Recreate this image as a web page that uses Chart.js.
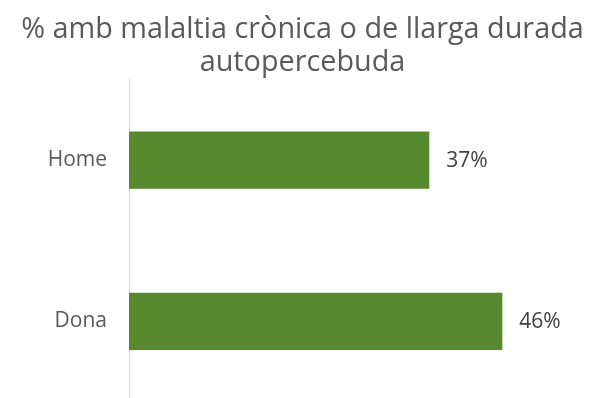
<!DOCTYPE html>
<html>
<head>
<meta charset="utf-8">
<script src="https://cdn.jsdelivr.net/npm/chart.js@4"></script>
<style>
  html, body { margin: 0; padding: 0; background: #fff; overflow: hidden; }
  canvas { display: block; }
</style>
</head>
<body>
<canvas id="chart" width="605" height="402"></canvas>
<script>
const categories = ["Home", "Dona"];
const values = [37, 46];
const titleLines = ["% amb malaltia crònica o de llarga durada", "autopercebuda"];

// writes "37%" etc. just past the end of each bar
const valueLabels = {
    id: "valueLabels",
    afterDatasetsDraw(chart) {
        const ctx = chart.ctx;
        const meta = chart.getDatasetMeta(0);
        ctx.save();
        ctx.font = "21px 'Open Sans'";
        ctx.fillStyle = "#404040";
        ctx.textAlign = "left";
        ctx.textBaseline = "middle";
        meta.data.forEach((bar, i) => {
            ctx.fillText(values[i] + "%", bar.x + 17, bar.y + 1);
        });
        ctx.restore();
    }
};

new Chart(document.getElementById("chart").getContext("2d"), {
    type: "bar",
    data: {
        labels: categories,
        datasets: [
            {
                data: values,
                backgroundColor: "#57892f",
                borderWidth: 0,
                categoryPercentage: 1,
                barPercentage: 0.354,
            },
        ],
    },
    options: {
        indexAxis: "y",
        responsive: false,
        animation: false,
        layout: {
            padding: 0,
        },
        plugins: {
            legend: { display: false },
            tooltip: { enabled: false },
            title: {
                display: true,
                text: titleLines,
                color: "#595959",
                font: { family: "'Open Sans'", size: 28.8, weight: "normal", lineHeight: 1.12 },
                padding: { top: 14, bottom: 1 },
            },
        },
        scales: {
            x: {
                display: false,
                min: 0,
                max: 58.65,
            },
            y: {
                afterFit(scale) {
                    // fixed label column, and no extra room kept under the axis
                    scale.width = 129;
                    scale.paddingTop = 0;
                    scale.paddingBottom = 0;
                },
                grid: { display: false, drawTicks: false },
                border: { display: true, color: "#d9d9d9", width: 1 },
                ticks: {
                    color: "#595959",
                    padding: 22,
                    font: { family: "'Open Sans'", size: 21 },
                },
            },
        },
    },
    plugins: [valueLabels],
});
</script>
</body>
</html>
